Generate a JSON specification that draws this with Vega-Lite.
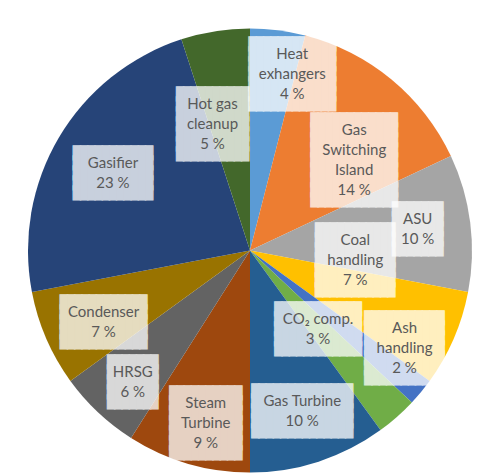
{
  "$schema": "https://vega.github.io/schema/vega-lite/v6.json",
  "width": 464,
  "height": 445,
  "padding": {"left": 18, "top": 28, "right": 0, "bottom": 0},
  "autosize": {"type": "none"},
  "background": "white",
  "view": {"stroke": null},
  "config": {
    "style": {
      "box": {"font": "DejaVu Sans Mono", "fontSize": 12, "lineHeight": 10, "lineBreak": "\n", "align": "center", "baseline": "middle"},
      "lbl": {"font": "Lato", "fontSize": 15, "lineHeight": 20, "lineBreak": "\n", "align": "center", "baseline": "middle"}
    }
  },
  "data": {
    "values": [
      {"idx": 1, "name": "Heat\nexhangers", "share": 4},
      {"idx": 2, "name": "Gas\nSwitching\nIsland", "share": 14},
      {"idx": 3, "name": "ASU", "share": 10},
      {"idx": 4, "name": "Coal\nhandling", "share": 7},
      {"idx": 5, "name": "Ash\nhandling", "share": 2},
      {"idx": 6, "name": "CO₂ comp.", "share": 3},
      {"idx": 7, "name": "Gas Turbine", "share": 10},
      {"idx": 8, "name": "Steam\nTurbine", "share": 9},
      {"idx": 9, "name": "HRSG", "share": 6},
      {"idx": 10, "name": "Condenser", "share": 7},
      {"idx": 11, "name": "Gasifier", "share": 23},
      {"idx": 12, "name": "Hot gas\ncleanup", "share": 5}
    ]
  },
  "transform": [
    {"window": [{"op": "sum", "field": "share", "as": "end"}], "sort": [{"field": "idx"}], "frame": [null, 0]},
    {"calculate": "datum.end - datum.share", "as": "start"},
    {"calculate": "datum.end - datum.share / 2", "as": "mid"},
    {"calculate": "datum.name + '\\n' + datum.share + ' %'", "as": "label"},
    {"calculate": "split(datum.label, '\\n')", "as": "lines"},
    {"calculate": "max(length(datum.lines[0]), length(datum.lines[1] || ''), length(datum.lines[2] || ''), length(datum.lines[3] || ''))", "as": "maxlen"},
    {"calculate": "pad('', round(1.05 * datum.maxlen + 2.5), '█')", "as": "row"},
    {"calculate": "join(slice([datum.row, datum.row, datum.row, datum.row, datum.row, datum.row, datum.row, datum.row, datum.row, datum.row, datum.row], 0, 2 * length(datum.lines) + 1), '\\n')", "as": "box"}
  ],
  "layer": [
    {
      "mark": {"type": "arc", "outerRadius": 222},
      "encoding": {
        "theta": {"field": "start", "type": "quantitative", "scale": {"domain": [0, 100]}, "stack": null},
        "theta2": {"field": "end"},
        "color": {
          "field": "idx", "type": "nominal",
          "scale": {"domain": [1,2,3,4,5,6,7,8,9,10,11,12], "range": ["#5B9BD5","#ED7D31","#A5A5A5","#FFC000","#4472C4","#70AD47","#255E91","#9E480E","#636363","#997300","#264478","#43682B"]},
          "legend": null
        }
      }
    },
    {
      "transform": [{"filter": {"field": "idx", "oneOf": [3, 7]}}],
      "encoding": {"theta": {"field": "mid", "type": "quantitative", "scale": {"domain": [0, 100]}, "stack": null}},
      "layer": [
        {"mark": {"type": "text", "style": "box", "fill": "white", "stroke": "white", "strokeWidth": 1.2, "opacity": 0.75, "radius": 169, "dy": {"expr": "0 - 10 * length(datum.lines)"}}, "encoding": {"text": {"field": "box"}}},
        {"mark": {"type": "text", "style": "lbl", "fill": "#595959", "radius": 169, "dy": {"expr": "0 - 10 * (length(datum.lines) - 1)"}}, "encoding": {"text": {"field": "label"}}}
      ]
    },
    {
      "transform": [{"filter": {"field": "idx", "oneOf": [8, 9]}}],
      "encoding": {"theta": {"field": "mid", "type": "quantitative", "scale": {"domain": [0, 100]}, "stack": null}},
      "layer": [
        {"mark": {"type": "text", "style": "box", "fill": "white", "stroke": "white", "strokeWidth": 1.2, "opacity": 0.75, "radius": 180, "dx": 6, "dy": {"expr": "0 - 10 * length(datum.lines)"}}, "encoding": {"text": {"field": "box"}}},
        {"mark": {"type": "text", "style": "lbl", "fill": "#595959", "radius": 180, "dx": 6, "dy": {"expr": "0 - 10 * (length(datum.lines) - 1)"}}, "encoding": {"text": {"field": "label"}}}
      ]
    },
    {
      "transform": [{"filter": {"field": "idx", "oneOf": [10, 11]}}],
      "encoding": {"theta": {"field": "mid", "type": "quantitative", "scale": {"domain": [0, 100]}, "stack": null}},
      "layer": [
        {"mark": {"type": "text", "style": "box", "fill": "white", "stroke": "white", "strokeWidth": 1.2, "opacity": 0.75, "radius": 165, "dx": 5, "dy": {"expr": "6 - 10 * length(datum.lines)"}}, "encoding": {"text": {"field": "box"}}},
        {"mark": {"type": "text", "style": "lbl", "fill": "#595959", "radius": 165, "dx": 5, "dy": {"expr": "6 - 10 * (length(datum.lines) - 1)"}}, "encoding": {"text": {"field": "label"}}}
      ]
    },
    {
      "transform": [{"filter": {"field": "idx", "oneOf": [1]}}],
      "encoding": {"theta": {"field": "mid", "type": "quantitative", "scale": {"domain": [0, 100]}, "stack": null}},
      "layer": [
        {"mark": {"type": "text", "style": "box", "fill": "white", "stroke": "white", "strokeWidth": 1.2, "opacity": 0.75, "radius": 178, "dx": 20, "dy": {"expr": "0 - 10 * length(datum.lines)"}}, "encoding": {"text": {"field": "box"}}},
        {"mark": {"type": "text", "style": "lbl", "fill": "#595959", "radius": 178, "dx": 20, "dy": {"expr": "0 - 10 * (length(datum.lines) - 1)"}}, "encoding": {"text": {"field": "label"}}}
      ]
    },
    {
      "transform": [{"filter": {"field": "idx", "oneOf": [2]}}],
      "encoding": {"theta": {"field": "mid", "type": "quantitative", "scale": {"domain": [0, 100]}, "stack": null}},
      "layer": [
        {"mark": {"type": "text", "style": "box", "fill": "white", "stroke": "white", "strokeWidth": 1.2, "opacity": 0.75, "radius": 140, "dx": 15, "dy": {"expr": "17 - 10 * length(datum.lines)"}}, "encoding": {"text": {"field": "box"}}},
        {"mark": {"type": "text", "style": "lbl", "fill": "#595959", "radius": 140, "dx": 15, "dy": {"expr": "17 - 10 * (length(datum.lines) - 1)"}}, "encoding": {"text": {"field": "label"}}}
      ]
    },
    {
      "transform": [{"filter": {"field": "idx", "oneOf": [12]}}],
      "encoding": {"theta": {"field": "mid", "type": "quantitative", "scale": {"domain": [0, 100]}, "stack": null}},
      "layer": [
        {"mark": {"type": "text", "style": "box", "fill": "white", "stroke": "white", "strokeWidth": 1.2, "opacity": 0.75, "radius": 131, "dx": -17, "dy": {"expr": "3 - 10 * length(datum.lines)"}}, "encoding": {"text": {"field": "box"}}},
        {"mark": {"type": "text", "style": "lbl", "fill": "#595959", "radius": 131, "dx": -17, "dy": {"expr": "3 - 10 * (length(datum.lines) - 1)"}}, "encoding": {"text": {"field": "label"}}}
      ]
    },
    {
      "transform": [{"filter": {"field": "idx", "oneOf": [4]}}],
      "encoding": {"theta": {"field": "mid", "type": "quantitative", "scale": {"domain": [0, 100]}, "stack": null}},
      "layer": [
        {"mark": {"type": "text", "style": "box", "fill": "white", "stroke": "white", "strokeWidth": 1.2, "opacity": 0.75, "radius": 106, "dx": 8, "dy": {"expr": "-33 - 10 * length(datum.lines)"}}, "encoding": {"text": {"field": "box"}}},
        {"mark": {"type": "text", "style": "lbl", "fill": "#595959", "radius": 106, "dx": 8, "dy": {"expr": "-33 - 10 * (length(datum.lines) - 1)"}}, "encoding": {"text": {"field": "label"}}}
      ]
    },
    {
      "transform": [{"filter": {"field": "idx", "oneOf": [5]}}],
      "encoding": {"theta": {"field": "mid", "type": "quantitative", "scale": {"domain": [0, 100]}, "stack": null}},
      "layer": [
        {"mark": {"type": "text", "style": "box", "fill": "white", "stroke": "white", "strokeWidth": 1.2, "opacity": 0.75, "radius": 172, "dx": 22, "dy": {"expr": "-12 - 10 * length(datum.lines)"}}, "encoding": {"text": {"field": "box"}}},
        {"mark": {"type": "text", "style": "lbl", "fill": "#595959", "radius": 172, "dx": 22, "dy": {"expr": "-12 - 10 * (length(datum.lines) - 1)"}}, "encoding": {"text": {"field": "label"}}}
      ]
    },
    {
      "transform": [{"filter": {"field": "idx", "oneOf": [6]}}],
      "encoding": {"theta": {"field": "mid", "type": "quantitative", "scale": {"domain": [0, 100]}, "stack": null}},
      "layer": [
        {"mark": {"type": "text", "style": "box", "fill": "white", "stroke": "white", "strokeWidth": 1.2, "opacity": 0.75, "radius": 106, "dx": -2, "dy": {"expr": "-1 - 10 * length(datum.lines)"}}, "encoding": {"text": {"field": "box"}}},
        {"mark": {"type": "text", "style": "lbl", "fill": "#595959", "radius": 106, "dx": -2, "dy": {"expr": "-1 - 10 * (length(datum.lines) - 1)"}}, "encoding": {"text": {"field": "label"}}}
      ]
    }
  ]
}
